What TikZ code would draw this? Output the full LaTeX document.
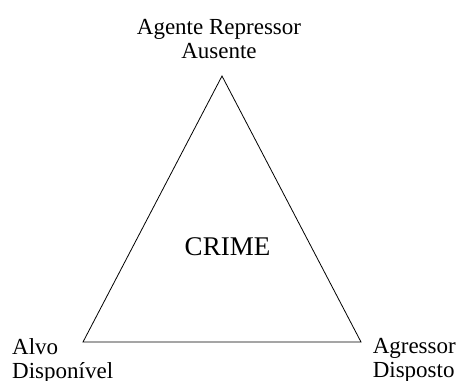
\documentclass[tikz,border=0pt]{standalone}
\usepackage{fontspec}
\setmainfont{Liberation Serif}
\tikzset{
  label text/.style={align=center, font=\fontsize{23}{24}\selectfont, inner sep=0pt}
}
\begin{document}
\begin{tikzpicture}[x=1pt, y=-1pt]

% Picture frame (457 x 380)
\useasboundingbox (0,0) rectangle (457,380);

% Corners of the triangle
\coordinate (top) at (222,76);
\coordinate (left) at (83,342);
\coordinate (right) at (361,342);

% Triangle
\draw[line width=0.8pt] (left) -- (top) -- (right) -- cycle;

% Centre
\node[label text, font=\fontsize{27}{30}\selectfont] (crime) at (227.5,247) {CRIME};

% Labels at the corners
\node[label text, anchor=north] (agente) at (219,19) {Agente Repressor\\Ausente};
\node[label text, align=left, anchor=north west] (alvo) at (12,338) {Alvo\\Disponível};
\node[label text, align=left, anchor=north east] (agressor) at (456,338) {Agressor\\Disposto};

\end{tikzpicture}
\end{document}
